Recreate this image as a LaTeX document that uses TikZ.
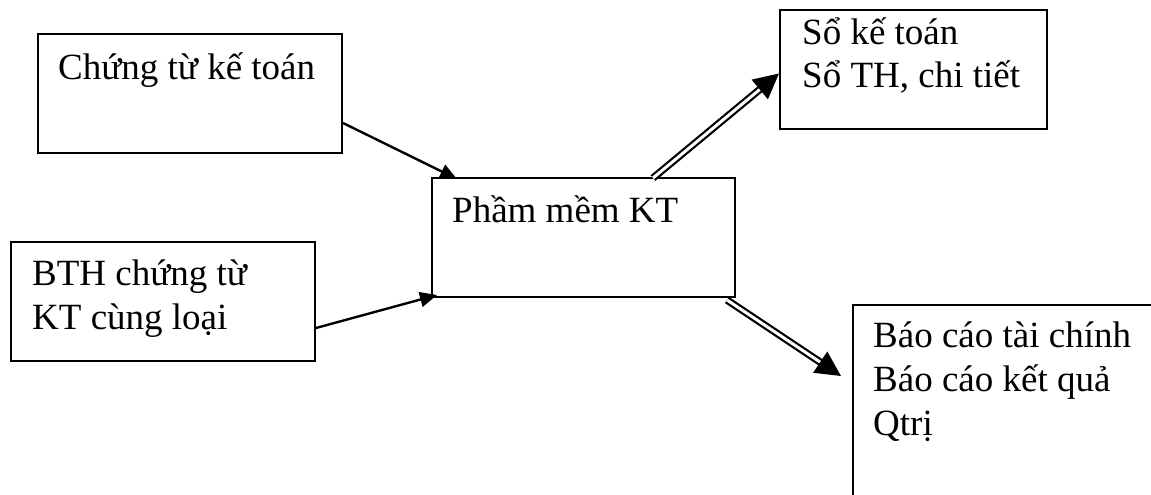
\documentclass[tikz,border=0pt]{standalone}
\usepackage{fontspec}
\setmainfont{Liberation Serif}
\usetikzlibrary{arrows.meta}
\begin{document}
\begin{tikzpicture}[x=1pt,y=-1pt,
  box/.style={draw=black,line width=2pt,rectangle,inner sep=0pt,anchor=north west},
  txt/.style={anchor=base west,inner sep=0pt,font=\fontsize{37}{44}\selectfont,align=left},
  single/.style={line width=2.4pt,-{Triangle[length=17pt,width=15pt]}},
  dbl/.style={double,line width=2.2pt,double distance=3pt,-{Triangle[length=25pt,width=25pt]}}]
\useasboundingbox (0,0) rectangle (1151,495);
\clip (0,0) rectangle (1151,495);
\fill[white] (0,0) rectangle (1151,495);

% boxes
\node[box,minimum width=304pt,minimum height=119pt] (ct) at (37,33) {};
\node[box,minimum width=304pt,minimum height=119pt] (bth) at (10,241) {};
\node[box,minimum width=303pt,minimum height=119pt] (pm) at (431,177) {};
\node[box,minimum width=267pt,minimum height=119pt] (sk) at (779,9) {};
\node[box,minimum width=340pt,minimum height=240pt] (bc) at (852,304) {};

% texts
\node[txt] (tct) at ([xshift=21pt,yshift=-47pt]ct.north west) {Chứng từ kế toán};
\node[txt] (tbth1) at ([xshift=22pt,yshift=-44pt]bth.north west) {BTH chứng từ};
\node[txt] (tbth2) at ([xshift=22pt,yshift=-88pt]bth.north west) {KT cùng loại};
\node[txt] (tpm) at ([xshift=21pt,yshift=-45pt]pm.north west) {Phầm mềm KT};
\node[txt] (tsk1) at ([xshift=23pt,yshift=-36pt]sk.north west) {Sổ kế toán};
\node[txt] (tsk2) at ([xshift=23pt,yshift=-79pt]sk.north west) {Sổ TH, chi tiết};
\node[txt] (tbc1) at ([xshift=21pt,yshift=-43pt]bc.north west) {Báo cáo tài chính};
\node[txt] (tbc2) at ([xshift=21pt,yshift=-87pt]bc.north west) {Báo cáo kết quả};
\node[txt] (tbc3) at ([xshift=21pt,yshift=-131pt]bc.north west) {Qtrị};

% connectors
\draw[single] ([yshift=-90pt]ct.north east) -- ([xshift=26pt,yshift=-2pt]pm.north west);
\draw[single] ([yshift=-87pt]bth.north east) -- ([xshift=6pt,yshift=3pt]pm.south west);
\draw[dbl] ([xshift=222pt,yshift=-1pt]pm.north west) -- ([yshift=-4pt]sk.west);
\draw[dbl] ([xshift=-9pt,yshift=-2pt]pm.south east) -- ([xshift=-11pt,yshift=-72pt]bc.north west);
\end{tikzpicture}
\end{document}
